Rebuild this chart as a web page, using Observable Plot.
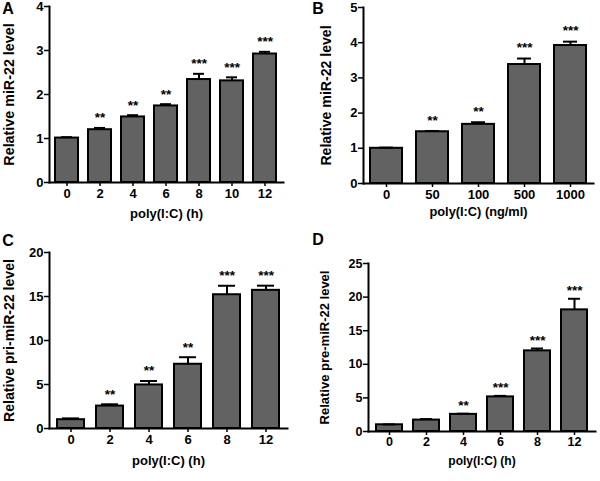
<!DOCTYPE html>
<html><head><meta charset="utf-8">
<script src="https://cdn.jsdelivr.net/npm/d3@7"></script>
<script src="https://cdn.jsdelivr.net/npm/@observablehq/plot@0.6"></script>
<style>
body{margin:0;background:#fff;}
#root{position:relative;width:600px;height:481px;overflow:hidden;background:#fff;}
.panel{position:absolute;}
</style></head><body><div id="root"></div>
<script>
// Panel A: poly(I:C) time course, mature miR-22
const catsA = ["0","2","4","6","8","10","12"];
const valuesA = [1.01, 1.20, 1.49, 1.74, 2.34, 2.31, 2.92];
const errorsA = [0.02, 0.04, 0.04, 0.04, 0.13, 0.08, 0.05];
const starsA = ["", "**", "**", "**", "***", "***", "***"];
const ticksA = [0, 1, 2, 3, 4];

// Panel B: poly(I:C) dose, mature miR-22
const catsB = ["0","50","100","500","1000"];
const valuesB = [1.0, 1.47, 1.68, 3.38, 3.92];
const errorsB = [0.02, 0.02, 0.06, 0.17, 0.11];
const starsB = ["", "**", "**", "***", "***"];
const ticksB = [0, 1, 2, 3, 4, 5];

// Panel C: pri-miR-22
const catsC = ["0","2","4","6","8","12"];
const valuesC = [1.0, 2.55, 4.95, 7.3, 15.2, 15.7];
const errorsC = [0.15, 0.2, 0.45, 0.8, 1.02, 0.53];
const starsC = ["", "**", "**", "**", "***", "***"];
const ticksC = [0, 5, 10, 15, 20];

// Panel D: pre-miR-22
const catsD = ["0","2","4","6","8","12"];
const valuesD = [1.0, 1.7, 2.55, 5.15, 12.0, 18.1];
const errorsD = [0.05, 0.15, 0.1, 0.15, 0.35, 1.65];
const starsD = ["", "", "**", "***", "***", "***"];
const ticksD = [0, 5, 10, 15, 20, 25];

const FONT = "'Liberation Sans', Arial, Helvetica, sans-serif";

function makePanel(cfg) {
  const data = cfg.cats.map((c, i) => ({c, v: cfg.values[i], e: cfg.errors[i], s: cfg.stars[i]}));
  return Plot.plot({
    width: cfg.w, height: cfg.h,
    marginLeft: cfg.ml, marginRight: cfg.mr, marginTop: cfg.mt, marginBottom: cfg.mb,
    style: {fontFamily: FONT, fontWeight: "bold", color: "#000", background: "transparent", overflow: "visible"},
    x: {type: "band", domain: cfg.cats, paddingInner: 0.3, paddingOuter: 0.15},
    y: {domain: [0, cfg.ticks[cfg.ticks.length - 1]]},
    marks: [
      Plot.barY(data, {x: "c", y: "v", fill: "#626262", stroke: "#000", strokeWidth: 2}),
      Plot.ruleX(data, {x: "c", y1: "v", y2: d => d.v + d.e, stroke: "#000", strokeWidth: 2}),
      Plot.tickY(data, {x: "c", y: d => d.v + d.e, stroke: "#000", strokeWidth: 2, insetLeft: cfg.cap, insetRight: cfg.cap}),
      Plot.text(data, {x: "c", y: d => d.v + d.e, text: "s", lineAnchor: "bottom", dy: cfg.starDy, fontSize: 13.5, fontWeight: "bold", fill: "#000"}),
      Plot.axisY({ticks: cfg.ticks, tickFormat: "d", tickSize: 5, tickPadding: 1, fontSize: cfg.tickFont, fontWeight: "bold", label: null, strokeWidth: 1.5}),
      Plot.axisX({tickSize: 4, tickPadding: 2, fontSize: cfg.tickFont, fontWeight: "bold", label: null, strokeWidth: 1.5}),
      Plot.frame({anchor: "left", strokeWidth: 2}),
      Plot.frame({anchor: "bottom", strokeWidth: 2}),
      Plot.text([cfg.xLabel], {text: d => d, frameAnchor: "bottom", dy: cfg.xLabelDy, lineAnchor: "middle", textAnchor: "middle", fontSize: cfg.xLabelFont, fill: "#000"}),
      Plot.text([cfg.yLabel], {text: d => d, frameAnchor: "left", dx: cfg.yLabelDx, rotate: -90, lineAnchor: "middle", textAnchor: "middle", fontSize: cfg.yLabelFont, fill: "#000"}),
      Plot.text([cfg.letter], {text: d => d, frameAnchor: "top-left", dx: cfg.letterDx, dy: cfg.letterDy, lineAnchor: "middle", textAnchor: "middle", fontSize: 16, fill: "#000"})
    ]
  });
}

const panels = [
  {letter: "A", cats: catsA, values: valuesA, errors: errorsA, stars: starsA, ticks: ticksA,
   xLabel: "poly(I:C) (h)", yLabel: "Relative miR-22 level",
   left: 0, top: 0, w: 300, h: 240, ml: 49, mr: 17, mt: 6, mb: 58,
   cap: 6, starDy: -5.5, tickFont: 13, xLabelFont: 13, yLabelFont: 14.3,
   xLabelDy: 31, yLabelDx: -40, letterDx: -41.5, letterDy: 2.8},
  {letter: "B", cats: catsB, values: valuesB, errors: errorsB, stars: starsB, ticks: ticksB,
   xLabel: "poly(I:C) (ng/ml)", yLabel: "Relative miR-22 level",
   left: 300, top: 0, w: 300, h: 240, ml: 63, mr: 7, mt: 7, mb: 57,
   cap: 9, starDy: -6.5, tickFont: 13, xLabelFont: 12.8, yLabelFont: 14.1,
   xLabelDy: 28.4, yLabelDx: -37, letterDx: -45.5, letterDy: 1.2},
  {letter: "C", cats: catsC, values: valuesC, errors: errorsC, stars: starsC, ticks: ticksC,
   xLabel: "poly(I:C) (h)", yLabel: "Relative pri-miR-22 level",
   left: 0, top: 226, w: 300, h: 255, ml: 49, mr: 13, mt: 26, mb: 53,
   cap: 5, starDy: -5.5, tickFont: 13, xLabelFont: 13, yLabelFont: 14.1,
   xLabelDy: 32, yLabelDx: -40, letterDx: -41.5, letterDy: -11.7},
  {letter: "D", cats: catsD, values: valuesD, errors: errorsD, stars: starsD, ticks: ticksD,
   xLabel: "poly(I:C) (h)", yLabel: "Relative pre-miR-22 level",
   left: 300, top: 226, w: 300, h: 255, ml: 68, mr: 5, mt: 37, mb: 50,
   cap: 7, starDy: -4, tickFont: 12.5, xLabelFont: 12, yLabelFont: 13,
   xLabelDy: 29.3, yLabelDx: -44, letterDx: -50.5, letterDy: -23.3}
];

const root = document.getElementById("root");
for (const p of panels) {
  const div = document.createElement("div");
  div.className = "panel";
  div.style.left = p.left + "px";
  div.style.top = p.top + "px";
  div.appendChild(makePanel(p));
  root.appendChild(div);
}
</script>
</body></html>
